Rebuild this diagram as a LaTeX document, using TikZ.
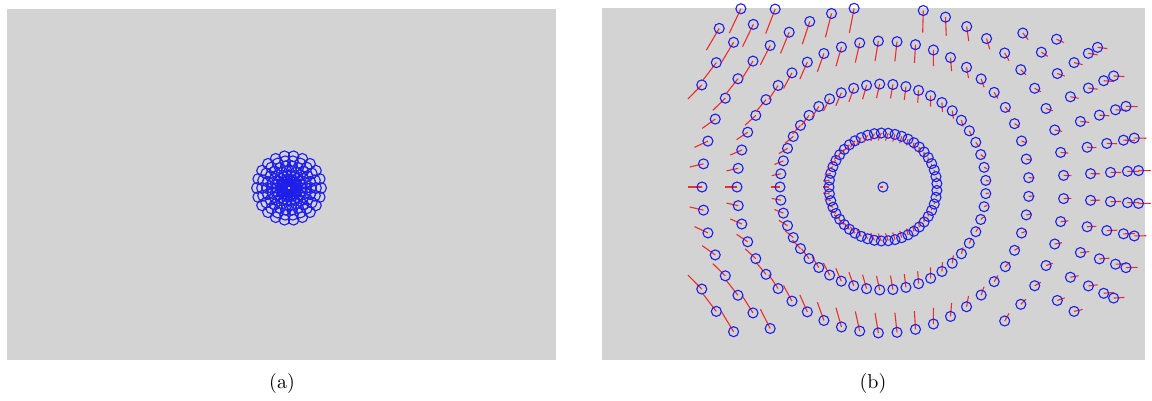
\documentclass[tikz,border=0pt]{standalone}
\usepackage{tikz}

\definecolor{panelgray}{RGB}{211,211,211}
\definecolor{partblue}{RGB}{30,30,235}
\definecolor{velred}{RGB}{235,45,45}

\tikzset{
  panel/.style={fill=panelgray,draw=none},
  particle/.style={draw=partblue,line width=0.55pt},
  velocity/.style={draw=velred,line width=0.55pt},
}

\begin{document}
\begin{tikzpicture}[x=0.5pt,y=-0.5pt]
  \useasboundingbox (0,0) rectangle (1152,401);
  % the two panels
  \fill[panel] (7,9) rectangle (556,360);
  \fill[panel] (602,8) rectangle (1145,360);
  % (a) packed cluster
  \foreach \rad in {32,27,22,17,12,7} {
    \foreach \idx in {0,...,21} {
      \draw[particle] ({289+\rad*cos(360/22*\idx)},{188-\rad*sin(360/22*\idx)}) circle[radius=2.7pt];
    }
  }
  \draw[particle] (289,188) circle[radius=2.7pt];
  % (b) rings after the strain, 49 particles per ring
  \draw[velocity] (883,187) -- ++(-3,0);
  \draw[particle] (883,187) circle[radius=2.5pt];
  \foreach \ring/\rad in {1/54,2/103,3/146,4/181,5/208,6/228,7/245,8/256} {
    \foreach \idx in {-24,...,24} {
      \pgfmathsetmacro\px{883+\rad*cos(180-\idx*360/49)}
      \pgfmathsetmacro\py{187-\rad*sin(180-\idx*360/49)}
      \pgfmathtruncatemacro\isvis{(\px>=701)&&(\py>=8)&&(\py<=338)&&!((\px>980)&&(\py<30))&&!((\px>980)&&(\py>321.5-0.05*(\px-1000)))&&!((\ring>=7)&&(\px<1000))}
      \ifnum\isvis=1
        \pgfmathsetmacro\relx{\px-883}
        \pgfmathsetmacro\rely{187-\py}
        \pgfmathsetmacro\gfac{\relx>0 ? exp(-(\relx/130)^2) : 1}
        \pgfmathsetmacro\vx{0.06*\relx-3}
        \pgfmathsetmacro\vy{0.137*\rely*\gfac}
        \draw[velocity] (\px,\py) -- ++(\vx,\vy);
        \draw[particle] (\px,\py) circle[radius=2.5pt];
      \fi
    }
  }
  % captions
  \node (capa) at (282,383) {(a)};
  \node (capb) at (873,383) {(b)};
\end{tikzpicture}
\end{document}
